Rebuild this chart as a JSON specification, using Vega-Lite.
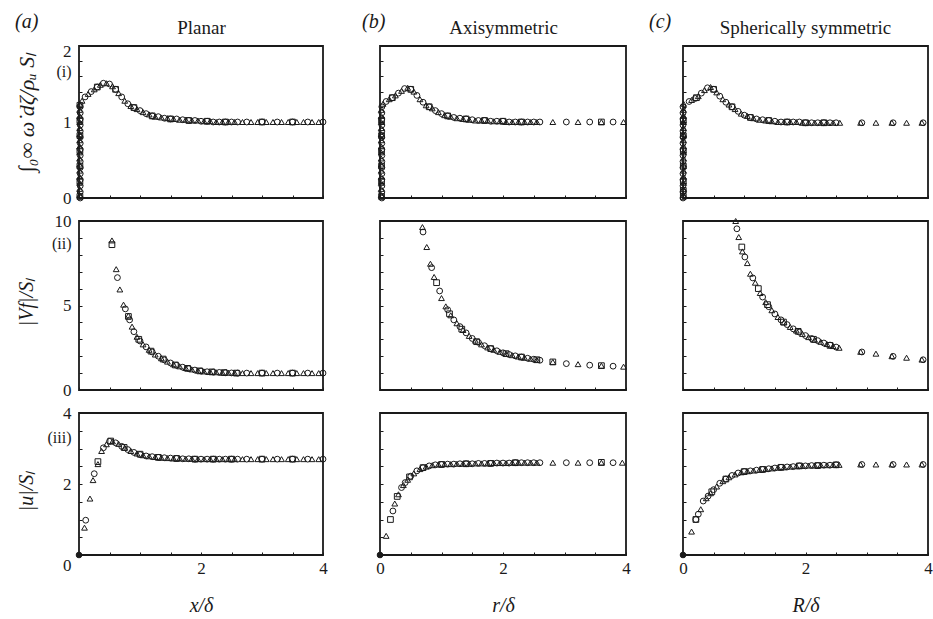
{
"$schema":"https://vega.github.io/schema/vega-lite/v6.json",
"padding":{"left":14,"top":11,"right":0,"bottom":0},
"config":{
 "font":"Liberation Serif",
 "view":{"stroke":"#1a1a1a","strokeWidth":1.8},
 "axis":{"domain":false,"grid":false,"tickSize":-3,"tickColor":"#1a1a1a","tickWidth":1,"labelFont":"Liberation Serif","labelFontSize":17,"labelColor":"#1a1a1a","labelPadding":11,"labelFlush":false,"labelOverlap":false,"labelBound":false,"titleFont":"Liberation Serif","titleFontSize":20,"titleFontWeight":"normal","titleFontStyle":"italic","titleColor":"#1a1a1a"},
 "axisX":{"labelFont":"Liberation Serif","labelPadding":8,"titlePadding":19},
 "axisY":{"labelFont":"Liberation Serif","titleBaseline":"middle","titleAngle":-90},
 "title":{"font":"Liberation Serif","fontSize":20,"fontWeight":"normal","fontStyle":"italic","color":"#1a1a1a","anchor":"start","frame":"group"}
},
"datasets":{
"a1":[
{"s":"o","x":0.02,"y":0},{"s":"o","x":0.02,"y":0.08},{"s":"o","x":0.02,"y":0.16},{"s":"o","x":0.02,"y":0.24},{"s":"o","x":0.02,"y":0.32},{"s":"o","x":0.02,"y":0.4},{"s":"o","x":0.02,"y":0.48},{"s":"o","x":0.02,"y":0.56},{"s":"o","x":0.02,"y":0.64},{"s":"o","x":0.02,"y":0.72},{"s":"o","x":0.02,"y":0.8},{"s":"o","x":0.02,"y":0.88},{"s":"o","x":0.02,"y":0.96},{"s":"o","x":0.02,"y":1.04},{"s":"o","x":0.02,"y":1.12},{"s":"o","x":0.02,"y":1.2},
{"s":"t","x":0.01,"y":0.04},{"s":"t","x":0.01,"y":0.12},{"s":"t","x":0.01,"y":0.2},{"s":"t","x":0.01,"y":0.28},{"s":"t","x":0.01,"y":0.36},{"s":"t","x":0.01,"y":0.44},{"s":"t","x":0.01,"y":0.52},{"s":"t","x":0.01,"y":0.6},{"s":"t","x":0.01,"y":0.68},{"s":"t","x":0.01,"y":0.76},{"s":"t","x":0.01,"y":0.84},{"s":"t","x":0.01,"y":0.92},{"s":"t","x":0.01,"y":1.0},{"s":"t","x":0.01,"y":1.08},{"s":"t","x":0.01,"y":1.16},{"s":"t","x":0.01,"y":1.24},
{"s":"q","x":0.015,"y":0.02},{"s":"q","x":0.015,"y":0.22},{"s":"q","x":0.015,"y":0.42},{"s":"q","x":0.015,"y":0.62},{"s":"q","x":0.015,"y":0.82},{"s":"q","x":0.015,"y":1.02},{"s":"q","x":0.015,"y":1.22},
{"s":"o","x":0.1,"y":1.33},{"s":"o","x":0.2,"y":1.4},{"s":"o","x":0.3,"y":1.46},{"s":"o","x":0.4,"y":1.51},{"s":"o","x":0.5,"y":1.5},{"s":"o","x":0.6,"y":1.43},{"s":"o","x":0.7,"y":1.33},{"s":"o","x":0.8,"y":1.24},{"s":"o","x":0.9,"y":1.19},{"s":"o","x":1.0,"y":1.15},{"s":"o","x":1.1,"y":1.11},{"s":"o","x":1.2,"y":1.08},{"s":"o","x":1.3,"y":1.07},{"s":"o","x":1.4,"y":1.05},{"s":"o","x":1.5,"y":1.04},{"s":"o","x":1.6,"y":1.04},{"s":"o","x":1.7,"y":1.03},{"s":"o","x":1.8,"y":1.02},{"s":"o","x":1.9,"y":1.02},{"s":"o","x":2.0,"y":1.01},{"s":"o","x":2.1,"y":1.01},{"s":"o","x":2.2,"y":1.0},{"s":"o","x":2.3,"y":1.0},{"s":"o","x":2.4,"y":1.0},{"s":"o","x":2.5,"y":1.0},{"s":"o","x":2.6,"y":1.0},
{"s":"t","x":0.05,"y":1.28},{"s":"t","x":0.15,"y":1.37},{"s":"t","x":0.25,"y":1.43},{"s":"t","x":0.35,"y":1.49},{"s":"t","x":0.45,"y":1.51},{"s":"t","x":0.55,"y":1.47},{"s":"t","x":0.65,"y":1.38},{"s":"t","x":0.75,"y":1.28},{"s":"t","x":0.85,"y":1.21},{"s":"t","x":0.95,"y":1.17},{"s":"t","x":1.05,"y":1.13},{"s":"t","x":1.15,"y":1.1},{"s":"t","x":1.25,"y":1.07},{"s":"t","x":1.35,"y":1.06},{"s":"t","x":1.45,"y":1.05},{"s":"t","x":1.55,"y":1.04},{"s":"t","x":1.65,"y":1.03},{"s":"t","x":1.75,"y":1.03},{"s":"t","x":1.85,"y":1.02},{"s":"t","x":1.95,"y":1.02},{"s":"t","x":2.05,"y":1.01},{"s":"t","x":2.15,"y":1.01},{"s":"t","x":2.25,"y":1.0},{"s":"t","x":2.35,"y":1.0},{"s":"t","x":2.45,"y":1.0},{"s":"t","x":2.55,"y":1.0},
{"s":"q","x":0.3,"y":1.46},{"s":"q","x":0.6,"y":1.43},{"s":"q","x":0.9,"y":1.19},{"s":"q","x":1.2,"y":1.08},{"s":"q","x":1.5,"y":1.04},{"s":"q","x":1.8,"y":1.02},{"s":"q","x":2.1,"y":1.01},{"s":"q","x":2.4,"y":1.0},
{"s":"o","x":2.75,"y":1.0},{"s":"o","x":3.0,"y":1.0},{"s":"o","x":3.25,"y":1.0},{"s":"o","x":3.5,"y":1.0},{"s":"o","x":3.75,"y":1.0},{"s":"o","x":4.0,"y":1.0},
{"s":"t","x":2.68,"y":1.0},{"s":"t","x":2.82,"y":1.0},{"s":"t","x":2.93,"y":1.0},{"s":"t","x":3.07,"y":1.0},{"s":"t","x":3.18,"y":1.0},{"s":"t","x":3.32,"y":1.0},{"s":"t","x":3.43,"y":1.0},{"s":"t","x":3.57,"y":1.0},{"s":"t","x":3.68,"y":1.0},{"s":"t","x":3.82,"y":1.0},{"s":"t","x":3.93,"y":1.0},
{"s":"q","x":3.0,"y":1.0},{"s":"q","x":3.5,"y":1.0}
],
"a2":[
{"s":"t","x":0.54,"y":8.85},{"s":"t","x":0.61,"y":7.15},{"s":"t","x":0.67,"y":5.95},{"s":"t","x":0.73,"y":5.05},{"s":"t","x":0.81,"y":4.4},{"s":"t","x":0.87,"y":3.75},{"s":"t","x":0.95,"y":3.15},{"s":"t","x":1.05,"y":2.7},{"s":"t","x":1.15,"y":2.38},{"s":"t","x":1.25,"y":2.1},{"s":"t","x":1.35,"y":1.88},{"s":"t","x":1.45,"y":1.68},{"s":"t","x":1.55,"y":1.52},{"s":"t","x":1.65,"y":1.4},{"s":"t","x":1.75,"y":1.3},{"s":"t","x":1.85,"y":1.22},{"s":"t","x":1.95,"y":1.15},{"s":"t","x":2.05,"y":1.1},{"s":"t","x":2.15,"y":1.07},{"s":"t","x":2.25,"y":1.05},{"s":"t","x":2.35,"y":1.03},{"s":"t","x":2.45,"y":1.02},{"s":"t","x":2.55,"y":1.01},
{"s":"o","x":0.63,"y":6.65},{"s":"o","x":0.76,"y":4.8},{"s":"o","x":0.83,"y":4.15},{"s":"o","x":0.9,"y":3.45},{"s":"o","x":1.0,"y":2.9},{"s":"o","x":1.1,"y":2.55},{"s":"o","x":1.2,"y":2.25},{"s":"o","x":1.3,"y":2.0},{"s":"o","x":1.4,"y":1.78},{"s":"o","x":1.5,"y":1.6},{"s":"o","x":1.6,"y":1.46},{"s":"o","x":1.7,"y":1.35},{"s":"o","x":1.8,"y":1.26},{"s":"o","x":1.9,"y":1.18},{"s":"o","x":2.0,"y":1.12},{"s":"o","x":2.1,"y":1.08},{"s":"o","x":2.2,"y":1.06},{"s":"o","x":2.3,"y":1.04},{"s":"o","x":2.4,"y":1.02},{"s":"o","x":2.5,"y":1.01},{"s":"o","x":2.6,"y":1.0},
{"s":"q","x":0.54,"y":8.6},{"s":"q","x":0.81,"y":4.35},{"s":"q","x":0.98,"y":3.0},{"s":"q","x":1.18,"y":2.3},{"s":"q","x":1.38,"y":1.83},{"s":"q","x":1.58,"y":1.48},{"s":"q","x":1.78,"y":1.28},{"s":"q","x":1.98,"y":1.13},{"s":"q","x":2.18,"y":1.07},{"s":"q","x":2.38,"y":1.03},{"s":"q","x":2.58,"y":1.0},
{"s":"o","x":2.75,"y":1.0},{"s":"o","x":3.0,"y":1.0},{"s":"o","x":3.25,"y":1.0},{"s":"o","x":3.5,"y":1.0},{"s":"o","x":3.75,"y":1.0},{"s":"o","x":4.0,"y":1.0},
{"s":"t","x":2.68,"y":1.0},{"s":"t","x":2.82,"y":1.0},{"s":"t","x":2.93,"y":1.0},{"s":"t","x":3.07,"y":1.0},{"s":"t","x":3.18,"y":1.0},{"s":"t","x":3.32,"y":1.0},{"s":"t","x":3.43,"y":1.0},{"s":"t","x":3.57,"y":1.0},{"s":"t","x":3.68,"y":1.0},{"s":"t","x":3.82,"y":1.0},{"s":"t","x":3.93,"y":1.0},
{"s":"q","x":3.0,"y":1.0},{"s":"q","x":3.5,"y":1.0}
],
"a3":[
{"s":"f","x":0,"y":0},
{"s":"t","x":0.09,"y":0.77},{"s":"t","x":0.18,"y":1.59},{"s":"t","x":0.23,"y":2.11},{"s":"t","x":0.31,"y":2.56},{"s":"t","x":0.37,"y":2.93},{"s":"t","x":0.45,"y":3.12},{"s":"t","x":0.55,"y":3.2},{"s":"t","x":0.65,"y":3.13},{"s":"t","x":0.75,"y":3.02},{"s":"t","x":0.85,"y":2.93},{"s":"t","x":0.95,"y":2.86},{"s":"t","x":1.05,"y":2.81},{"s":"t","x":1.15,"y":2.78},{"s":"t","x":1.25,"y":2.76},{"s":"t","x":1.35,"y":2.74},{"s":"t","x":1.45,"y":2.73},{"s":"t","x":1.55,"y":2.72},{"s":"t","x":1.65,"y":2.72},{"s":"t","x":1.75,"y":2.71},{"s":"t","x":1.85,"y":2.71},{"s":"t","x":1.95,"y":2.7},{"s":"t","x":2.05,"y":2.7},{"s":"t","x":2.15,"y":2.7},{"s":"t","x":2.25,"y":2.7},{"s":"t","x":2.35,"y":2.7},{"s":"t","x":2.45,"y":2.7},{"s":"t","x":2.55,"y":2.7},
{"s":"o","x":0.11,"y":0.98},{"s":"o","x":0.25,"y":2.29},{"s":"o","x":0.4,"y":3.02},{"s":"o","x":0.5,"y":3.2},{"s":"o","x":0.6,"y":3.16},{"s":"o","x":0.7,"y":3.06},{"s":"o","x":0.8,"y":2.97},{"s":"o","x":0.9,"y":2.89},{"s":"o","x":1.0,"y":2.83},{"s":"o","x":1.1,"y":2.79},{"s":"o","x":1.2,"y":2.77},{"s":"o","x":1.3,"y":2.75},{"s":"o","x":1.4,"y":2.74},{"s":"o","x":1.5,"y":2.73},{"s":"o","x":1.6,"y":2.72},{"s":"o","x":1.7,"y":2.71},{"s":"o","x":1.8,"y":2.71},{"s":"o","x":1.9,"y":2.7},{"s":"o","x":2.0,"y":2.7},{"s":"o","x":2.1,"y":2.7},{"s":"o","x":2.2,"y":2.7},{"s":"o","x":2.3,"y":2.7},{"s":"o","x":2.4,"y":2.7},{"s":"o","x":2.5,"y":2.7},{"s":"o","x":2.6,"y":2.7},
{"s":"q","x":0.31,"y":2.63},{"s":"q","x":0.52,"y":3.21},{"s":"q","x":0.74,"y":3.03},{"s":"q","x":1.0,"y":2.84},{"s":"q","x":1.3,"y":2.75},{"s":"q","x":1.6,"y":2.72},{"s":"q","x":1.9,"y":2.7},{"s":"q","x":2.2,"y":2.7},{"s":"q","x":2.5,"y":2.7},
{"s":"o","x":2.75,"y":2.7},{"s":"o","x":3.0,"y":2.7},{"s":"o","x":3.25,"y":2.7},{"s":"o","x":3.5,"y":2.7},{"s":"o","x":3.75,"y":2.7},{"s":"o","x":4.0,"y":2.7},
{"s":"t","x":2.68,"y":2.7},{"s":"t","x":2.82,"y":2.7},{"s":"t","x":2.93,"y":2.7},{"s":"t","x":3.07,"y":2.7},{"s":"t","x":3.18,"y":2.7},{"s":"t","x":3.32,"y":2.7},{"s":"t","x":3.43,"y":2.7},{"s":"t","x":3.57,"y":2.7},{"s":"t","x":3.68,"y":2.7},{"s":"t","x":3.82,"y":2.7},{"s":"t","x":3.93,"y":2.7},
{"s":"q","x":3.0,"y":2.7},{"s":"q","x":3.5,"y":2.7}
],
"b1":[
{"s":"o","x":0.03,"y":0},{"s":"o","x":0.03,"y":0.08},{"s":"o","x":0.03,"y":0.16},{"s":"o","x":0.03,"y":0.24},{"s":"o","x":0.03,"y":0.32},{"s":"o","x":0.03,"y":0.4},{"s":"o","x":0.03,"y":0.48},{"s":"o","x":0.03,"y":0.56},{"s":"o","x":0.03,"y":0.64},{"s":"o","x":0.03,"y":0.72},{"s":"o","x":0.03,"y":0.8},{"s":"o","x":0.03,"y":0.88},{"s":"o","x":0.03,"y":0.96},{"s":"o","x":0.03,"y":1.04},{"s":"o","x":0.03,"y":1.12},{"s":"o","x":0.03,"y":1.2},
{"s":"t","x":0.02,"y":0.04},{"s":"t","x":0.02,"y":0.12},{"s":"t","x":0.02,"y":0.2},{"s":"t","x":0.02,"y":0.28},{"s":"t","x":0.02,"y":0.36},{"s":"t","x":0.02,"y":0.44},{"s":"t","x":0.02,"y":0.52},{"s":"t","x":0.02,"y":0.6},{"s":"t","x":0.02,"y":0.68},{"s":"t","x":0.02,"y":0.76},{"s":"t","x":0.02,"y":0.84},{"s":"t","x":0.02,"y":0.92},{"s":"t","x":0.02,"y":1.0},{"s":"t","x":0.02,"y":1.08},{"s":"t","x":0.02,"y":1.16},
{"s":"q","x":0.025,"y":0.02},{"s":"q","x":0.025,"y":0.22},{"s":"q","x":0.025,"y":0.42},{"s":"q","x":0.025,"y":0.62},{"s":"q","x":0.025,"y":0.82},{"s":"q","x":0.025,"y":1.02},
{"s":"o","x":0.1,"y":1.27},{"s":"o","x":0.2,"y":1.32},{"s":"o","x":0.3,"y":1.38},{"s":"o","x":0.4,"y":1.44},{"s":"o","x":0.5,"y":1.43},{"s":"o","x":0.6,"y":1.35},{"s":"o","x":0.7,"y":1.26},{"s":"o","x":0.8,"y":1.2},{"s":"o","x":0.9,"y":1.15},{"s":"o","x":1.0,"y":1.11},{"s":"o","x":1.1,"y":1.08},{"s":"o","x":1.2,"y":1.06},{"s":"o","x":1.3,"y":1.05},{"s":"o","x":1.4,"y":1.04},{"s":"o","x":1.5,"y":1.03},{"s":"o","x":1.6,"y":1.02},{"s":"o","x":1.7,"y":1.02},{"s":"o","x":1.8,"y":1.01},{"s":"o","x":1.9,"y":1.01},{"s":"o","x":2.0,"y":1.01},{"s":"o","x":2.1,"y":1.0},{"s":"o","x":2.2,"y":1.0},{"s":"o","x":2.3,"y":1.0},{"s":"o","x":2.4,"y":1.0},{"s":"o","x":2.5,"y":1.0},{"s":"o","x":2.6,"y":1.0},
{"s":"t","x":0.05,"y":1.24},{"s":"t","x":0.15,"y":1.3},{"s":"t","x":0.25,"y":1.35},{"s":"t","x":0.35,"y":1.41},{"s":"t","x":0.45,"y":1.45},{"s":"t","x":0.55,"y":1.4},{"s":"t","x":0.65,"y":1.3},{"s":"t","x":0.75,"y":1.22},{"s":"t","x":0.85,"y":1.18},{"s":"t","x":0.95,"y":1.13},{"s":"t","x":1.05,"y":1.09},{"s":"t","x":1.15,"y":1.07},{"s":"t","x":1.25,"y":1.05},{"s":"t","x":1.35,"y":1.04},{"s":"t","x":1.45,"y":1.03},{"s":"t","x":1.55,"y":1.02},{"s":"t","x":1.65,"y":1.02},{"s":"t","x":1.75,"y":1.02},{"s":"t","x":1.85,"y":1.01},{"s":"t","x":1.95,"y":1.01},{"s":"t","x":2.05,"y":1.0},{"s":"t","x":2.15,"y":1.0},{"s":"t","x":2.25,"y":1.0},{"s":"t","x":2.35,"y":1.0},{"s":"t","x":2.45,"y":1.0},{"s":"t","x":2.55,"y":1.0},
{"s":"q","x":0.2,"y":1.32},{"s":"q","x":0.5,"y":1.43},{"s":"q","x":0.8,"y":1.2},{"s":"q","x":1.1,"y":1.08},{"s":"q","x":1.4,"y":1.04},{"s":"q","x":1.7,"y":1.02},{"s":"q","x":2.0,"y":1.01},{"s":"q","x":2.3,"y":1.0},
{"s":"t","x":2.81,"y":1.0},{"s":"o","x":3.03,"y":1.0},{"s":"t","x":3.22,"y":1.0},{"s":"o","x":3.41,"y":1.0},{"s":"t","x":3.6,"y":1.0},{"s":"q","x":3.6,"y":1.0},{"s":"o","x":3.79,"y":1.0},{"s":"t","x":3.96,"y":1.0}
],
"b2":[
{"s":"t","x":0.69,"y":9.64},{"s":"t","x":0.76,"y":8.46},{"s":"t","x":0.82,"y":7.47},{"s":"t","x":0.88,"y":6.69},{"s":"t","x":1.0,"y":5.44},{"s":"t","x":1.07,"y":4.95},{"s":"t","x":1.15,"y":4.42},{"s":"t","x":1.25,"y":3.95},{"s":"t","x":1.35,"y":3.55},{"s":"t","x":1.45,"y":3.2},{"s":"t","x":1.55,"y":2.92},{"s":"t","x":1.65,"y":2.7},{"s":"t","x":1.75,"y":2.52},{"s":"t","x":1.85,"y":2.38},{"s":"t","x":1.95,"y":2.26},{"s":"t","x":2.05,"y":2.15},{"s":"t","x":2.15,"y":2.06},{"s":"t","x":2.25,"y":1.98},{"s":"t","x":2.35,"y":1.91},{"s":"t","x":2.45,"y":1.85},{"s":"t","x":2.55,"y":1.79},
{"s":"o","x":0.7,"y":9.35},{"s":"o","x":0.84,"y":7.24},{"s":"o","x":0.97,"y":5.86},{"s":"o","x":1.1,"y":4.75},{"s":"o","x":1.2,"y":4.15},{"s":"o","x":1.3,"y":3.75},{"s":"o","x":1.4,"y":3.38},{"s":"o","x":1.5,"y":3.05},{"s":"o","x":1.6,"y":2.82},{"s":"o","x":1.7,"y":2.62},{"s":"o","x":1.8,"y":2.45},{"s":"o","x":1.9,"y":2.32},{"s":"o","x":2.0,"y":2.2},{"s":"o","x":2.1,"y":2.1},{"s":"o","x":2.2,"y":2.02},{"s":"o","x":2.3,"y":1.95},{"s":"o","x":2.4,"y":1.88},{"s":"o","x":2.5,"y":1.82},{"s":"o","x":2.6,"y":1.76},
{"s":"q","x":0.92,"y":6.35},{"s":"q","x":1.13,"y":4.51},{"s":"q","x":1.33,"y":3.6},{"s":"q","x":1.57,"y":2.86},{"s":"q","x":1.8,"y":2.45},{"s":"q","x":2.05,"y":2.15},{"s":"q","x":2.3,"y":1.95},{"s":"q","x":2.55,"y":1.79},
{"s":"t","x":2.81,"y":1.66},{"s":"q","x":2.81,"y":1.66},{"s":"o","x":3.03,"y":1.56},{"s":"t","x":3.22,"y":1.53},{"s":"o","x":3.41,"y":1.47},{"s":"t","x":3.6,"y":1.44},{"s":"q","x":3.6,"y":1.44},{"s":"o","x":3.79,"y":1.41},{"s":"t","x":3.96,"y":1.38}
],
"b3":[
{"s":"f","x":0,"y":0},
{"s":"t","x":0.1,"y":0.54},{"s":"t","x":0.24,"y":1.45},{"s":"t","x":0.3,"y":1.71},{"s":"t","x":0.38,"y":1.97},{"s":"t","x":0.45,"y":2.12},{"s":"t","x":0.55,"y":2.3},{"s":"t","x":0.65,"y":2.42},{"s":"t","x":0.75,"y":2.49},{"s":"t","x":0.85,"y":2.53},{"s":"t","x":0.95,"y":2.55},{"s":"t","x":1.05,"y":2.56},{"s":"t","x":1.15,"y":2.56},{"s":"t","x":1.25,"y":2.57},{"s":"t","x":1.35,"y":2.57},{"s":"t","x":1.45,"y":2.57},{"s":"t","x":1.55,"y":2.58},{"s":"t","x":1.65,"y":2.58},{"s":"t","x":1.75,"y":2.58},{"s":"t","x":1.85,"y":2.59},{"s":"t","x":1.95,"y":2.59},{"s":"t","x":2.05,"y":2.59},{"s":"t","x":2.15,"y":2.6},{"s":"t","x":2.25,"y":2.6},{"s":"t","x":2.35,"y":2.6},{"s":"t","x":2.45,"y":2.6},{"s":"t","x":2.55,"y":2.6},
{"s":"o","x":0.21,"y":1.24},{"s":"o","x":0.35,"y":1.9},{"s":"o","x":0.41,"y":2.04},{"s":"o","x":0.5,"y":2.22},{"s":"o","x":0.6,"y":2.37},{"s":"o","x":0.7,"y":2.46},{"s":"o","x":0.8,"y":2.51},{"s":"o","x":0.9,"y":2.54},{"s":"o","x":1.0,"y":2.55},{"s":"o","x":1.1,"y":2.56},{"s":"o","x":1.2,"y":2.56},{"s":"o","x":1.3,"y":2.57},{"s":"o","x":1.4,"y":2.57},{"s":"o","x":1.5,"y":2.57},{"s":"o","x":1.6,"y":2.58},{"s":"o","x":1.7,"y":2.58},{"s":"o","x":1.8,"y":2.58},{"s":"o","x":1.9,"y":2.59},{"s":"o","x":2.0,"y":2.59},{"s":"o","x":2.1,"y":2.59},{"s":"o","x":2.2,"y":2.6},{"s":"o","x":2.3,"y":2.6},{"s":"o","x":2.4,"y":2.6},{"s":"o","x":2.5,"y":2.6},{"s":"o","x":2.6,"y":2.6},
{"s":"q","x":0.17,"y":1.0},{"s":"q","x":0.28,"y":1.65},{"s":"q","x":0.48,"y":2.2},{"s":"q","x":0.7,"y":2.46},{"s":"q","x":1.0,"y":2.55},{"s":"q","x":1.4,"y":2.57},{"s":"q","x":1.8,"y":2.58},{"s":"q","x":2.2,"y":2.6},
{"s":"t","x":2.81,"y":2.6},{"s":"o","x":3.03,"y":2.6},{"s":"t","x":3.22,"y":2.6},{"s":"o","x":3.41,"y":2.6},{"s":"t","x":3.6,"y":2.6},{"s":"q","x":3.6,"y":2.61},{"s":"o","x":3.79,"y":2.6},{"s":"t","x":3.94,"y":2.6}
],
"c1":[
{"s":"o","x":0.0,"y":0},{"s":"o","x":0.0,"y":0.08},{"s":"o","x":0.0,"y":0.16},{"s":"o","x":0.0,"y":0.24},{"s":"o","x":0.0,"y":0.32},{"s":"o","x":0.0,"y":0.4},{"s":"o","x":0.0,"y":0.48},{"s":"o","x":0.0,"y":0.56},{"s":"o","x":0.0,"y":0.64},{"s":"o","x":0.0,"y":0.72},{"s":"o","x":0.0,"y":0.8},{"s":"o","x":0.0,"y":0.88},{"s":"o","x":0.0,"y":0.96},{"s":"o","x":0.0,"y":1.04},{"s":"o","x":0.0,"y":1.12},{"s":"o","x":0.0,"y":1.2},
{"s":"t","x":0.01,"y":0.04},{"s":"t","x":0.01,"y":0.12},{"s":"t","x":0.01,"y":0.2},{"s":"t","x":0.01,"y":0.28},{"s":"t","x":0.01,"y":0.36},{"s":"t","x":0.01,"y":0.44},{"s":"t","x":0.01,"y":0.52},{"s":"t","x":0.01,"y":0.6},{"s":"t","x":0.01,"y":0.68},{"s":"t","x":0.01,"y":0.76},{"s":"t","x":0.01,"y":0.84},{"s":"t","x":0.01,"y":0.92},{"s":"t","x":0.01,"y":1.0},{"s":"t","x":0.01,"y":1.08},{"s":"t","x":0.01,"y":1.16},{"s":"t","x":0.01,"y":1.24},
{"s":"q","x":0.005,"y":0.02},{"s":"q","x":0.005,"y":0.1},{"s":"q","x":0.005,"y":0.22},{"s":"q","x":0.005,"y":0.42},{"s":"q","x":0.005,"y":0.62},{"s":"q","x":0.005,"y":0.82},{"s":"q","x":0.005,"y":1.02},
{"s":"o","x":0.1,"y":1.27},{"s":"o","x":0.2,"y":1.31},{"s":"o","x":0.3,"y":1.38},{"s":"o","x":0.4,"y":1.45},{"s":"o","x":0.5,"y":1.43},{"s":"o","x":0.6,"y":1.34},{"s":"o","x":0.7,"y":1.26},{"s":"o","x":0.8,"y":1.2},{"s":"o","x":0.9,"y":1.14},{"s":"o","x":1.0,"y":1.09},{"s":"o","x":1.1,"y":1.06},{"s":"o","x":1.2,"y":1.04},{"s":"o","x":1.3,"y":1.03},{"s":"o","x":1.4,"y":1.02},{"s":"o","x":1.5,"y":1.01},{"s":"o","x":1.6,"y":1.0},{"s":"o","x":1.7,"y":1.0},{"s":"o","x":1.8,"y":1.0},{"s":"o","x":1.9,"y":1.0},{"s":"o","x":2.0,"y":0.99},{"s":"o","x":2.1,"y":0.99},{"s":"o","x":2.2,"y":0.99},{"s":"o","x":2.3,"y":0.99},{"s":"o","x":2.4,"y":0.99},{"s":"o","x":2.5,"y":0.99},
{"s":"t","x":0.14,"y":1.29},{"s":"t","x":0.25,"y":1.34},{"s":"t","x":0.35,"y":1.42},{"s":"t","x":0.45,"y":1.46},{"s":"t","x":0.55,"y":1.39},{"s":"t","x":0.65,"y":1.3},{"s":"t","x":0.75,"y":1.23},{"s":"t","x":0.85,"y":1.17},{"s":"t","x":0.95,"y":1.11},{"s":"t","x":1.05,"y":1.08},{"s":"t","x":1.15,"y":1.05},{"s":"t","x":1.25,"y":1.03},{"s":"t","x":1.35,"y":1.02},{"s":"t","x":1.45,"y":1.01},{"s":"t","x":1.55,"y":1.0},{"s":"t","x":1.65,"y":1.0},{"s":"t","x":1.75,"y":1.0},{"s":"t","x":1.85,"y":1.0},{"s":"t","x":1.95,"y":0.99},{"s":"t","x":2.05,"y":0.99},{"s":"t","x":2.15,"y":0.99},{"s":"t","x":2.25,"y":0.99},{"s":"t","x":2.35,"y":0.99},{"s":"t","x":2.45,"y":0.99},{"s":"t","x":2.56,"y":0.99},
{"s":"q","x":0.22,"y":1.32},{"s":"q","x":0.5,"y":1.43},{"s":"q","x":0.8,"y":1.2},{"s":"q","x":1.1,"y":1.06},{"s":"q","x":1.4,"y":1.02},{"s":"q","x":1.7,"y":1.0},{"s":"q","x":2.0,"y":0.99},{"s":"q","x":2.3,"y":0.99},
{"s":"o","x":2.92,"y":0.99},{"s":"t","x":2.9,"y":0.99},{"s":"t","x":3.15,"y":0.99},{"s":"o","x":3.43,"y":0.99},{"s":"t","x":3.41,"y":0.99},{"s":"t","x":3.65,"y":0.99},{"s":"o","x":3.92,"y":0.99},{"s":"t","x":3.9,"y":0.99}
],
"c2":[
{"s":"t","x":0.86,"y":10.0},{"s":"t","x":0.91,"y":9.05},{"s":"t","x":0.97,"y":8.2},{"s":"t","x":1.05,"y":7.51},{"s":"t","x":1.1,"y":6.88},{"s":"t","x":1.18,"y":6.35},{"s":"t","x":1.26,"y":5.74},{"s":"t","x":1.35,"y":5.2},{"s":"t","x":1.45,"y":4.72},{"s":"t","x":1.55,"y":4.32},{"s":"t","x":1.65,"y":4.0},{"s":"t","x":1.75,"y":3.73},{"s":"t","x":1.85,"y":3.52},{"s":"t","x":1.95,"y":3.32},{"s":"t","x":2.05,"y":3.13},{"s":"t","x":2.15,"y":2.97},{"s":"t","x":2.25,"y":2.85},{"s":"t","x":2.35,"y":2.72},{"s":"t","x":2.45,"y":2.6},{"s":"t","x":2.55,"y":2.5},
{"s":"o","x":0.88,"y":9.54},{"s":"o","x":1.01,"y":7.87},{"s":"o","x":1.14,"y":6.63},{"s":"o","x":1.3,"y":5.5},{"s":"o","x":1.4,"y":4.93},{"s":"o","x":1.5,"y":4.5},{"s":"o","x":1.6,"y":4.15},{"s":"o","x":1.7,"y":3.87},{"s":"o","x":1.8,"y":3.62},{"s":"o","x":1.9,"y":3.42},{"s":"o","x":2.0,"y":3.22},{"s":"o","x":2.1,"y":3.05},{"s":"o","x":2.2,"y":2.92},{"s":"o","x":2.3,"y":2.78},{"s":"o","x":2.4,"y":2.66},{"s":"o","x":2.5,"y":2.54},
{"s":"q","x":0.96,"y":8.46},{"s":"q","x":1.23,"y":6.0},{"s":"q","x":1.38,"y":5.05},{"s":"q","x":1.64,"y":4.02},{"s":"q","x":1.88,"y":3.47},{"s":"q","x":2.13,"y":3.0},{"s":"q","x":2.4,"y":2.64},
{"s":"o","x":2.92,"y":2.25},{"s":"t","x":2.9,"y":2.26},{"s":"t","x":3.15,"y":2.15},{"s":"o","x":3.43,"y":1.99},{"s":"t","x":3.41,"y":2.0},{"s":"t","x":3.65,"y":1.91},{"s":"o","x":3.92,"y":1.79},{"s":"t","x":3.9,"y":1.8}
],
"c3":[
{"s":"f","x":0,"y":0},
{"s":"t","x":0.14,"y":0.66},{"s":"t","x":0.29,"y":1.29},{"s":"t","x":0.38,"y":1.6},{"s":"t","x":0.45,"y":1.74},{"s":"t","x":0.55,"y":1.93},{"s":"t","x":0.65,"y":2.08},{"s":"t","x":0.75,"y":2.19},{"s":"t","x":0.85,"y":2.27},{"s":"t","x":0.95,"y":2.33},{"s":"t","x":1.05,"y":2.36},{"s":"t","x":1.15,"y":2.38},{"s":"t","x":1.25,"y":2.4},{"s":"t","x":1.35,"y":2.42},{"s":"t","x":1.45,"y":2.44},{"s":"t","x":1.55,"y":2.46},{"s":"t","x":1.65,"y":2.47},{"s":"t","x":1.75,"y":2.49},{"s":"t","x":1.85,"y":2.5},{"s":"t","x":1.95,"y":2.51},{"s":"t","x":2.05,"y":2.52},{"s":"t","x":2.15,"y":2.52},{"s":"t","x":2.25,"y":2.53},{"s":"t","x":2.35,"y":2.53},{"s":"t","x":2.45,"y":2.54},{"s":"t","x":2.55,"y":2.54},
{"s":"o","x":0.21,"y":1.0},{"s":"o","x":0.25,"y":1.15},{"s":"o","x":0.33,"y":1.52},{"s":"o","x":0.41,"y":1.66},{"s":"o","x":0.5,"y":1.84},{"s":"o","x":0.6,"y":2.02},{"s":"o","x":0.7,"y":2.14},{"s":"o","x":0.8,"y":2.24},{"s":"o","x":0.9,"y":2.31},{"s":"o","x":1.0,"y":2.35},{"s":"o","x":1.1,"y":2.37},{"s":"o","x":1.2,"y":2.39},{"s":"o","x":1.3,"y":2.41},{"s":"o","x":1.4,"y":2.43},{"s":"o","x":1.5,"y":2.45},{"s":"o","x":1.6,"y":2.47},{"s":"o","x":1.7,"y":2.48},{"s":"o","x":1.8,"y":2.49},{"s":"o","x":1.9,"y":2.51},{"s":"o","x":2.0,"y":2.51},{"s":"o","x":2.1,"y":2.52},{"s":"o","x":2.2,"y":2.52},{"s":"o","x":2.3,"y":2.53},{"s":"o","x":2.4,"y":2.53},{"s":"o","x":2.5,"y":2.54},
{"s":"q","x":0.21,"y":1.0},{"s":"q","x":0.47,"y":1.78},{"s":"q","x":0.7,"y":2.14},{"s":"q","x":1.0,"y":2.35},{"s":"q","x":1.3,"y":2.41},{"s":"q","x":1.6,"y":2.47},{"s":"q","x":1.9,"y":2.51},{"s":"q","x":2.2,"y":2.52},{"s":"q","x":2.5,"y":2.54},
{"s":"o","x":2.92,"y":2.55},{"s":"t","x":2.9,"y":2.55},{"s":"t","x":3.15,"y":2.55},{"s":"o","x":3.43,"y":2.55},{"s":"t","x":3.41,"y":2.55},{"s":"t","x":3.65,"y":2.55},{"s":"o","x":3.92,"y":2.55},{"s":"t","x":3.9,"y":2.55}
]
},
"columns":3,
"spacing":{"row":23,"column":57},
"bounds":"flush",
"concat":[
{"width":244,"height":152,"title":{"text":"(a)","dx":-64,"dy":14,"offset":0},"data":{"name":"a1"},
 "mark":{"type":"point","filled":true,"stroke":"#1a1a1a","strokeWidth":1,"opacity":1},
 "encoding":{
  "x":{"field":"x","type":"quantitative","scale":{"domain":[0,4],"nice":false},"axis":{"values":[0,0.5,1,1.5,2,2.5,3,3.5,4],"labels":false,"title":"Planar","titleX":122,"titleY":-165,"titleAlign":"center","titleBaseline":"alphabetic","titleFontSize":19,"titleFontStyle":"normal"}},
  "y":{"field":"y","type":"quantitative","scale":{"domain":[0,2],"nice":false},"axis":{"values":[0,0.2,0.4,0.6,0.8,1,1.2,1.4,1.6,1.8,2,1.66],"labelExpr":"datum.value == 1.66 ? '(i)' : (datum.value % 1 === 0 ? format(datum.value,'d') : '')","tickOpacity":{"condition":{"test":"datum.value == 1.66","value":0},"value":1},"labelFontSize":{"condition":{"test":"datum.value == 1.66","value":16},"value":17},"labelOffset":{"condition":{"test":"datum.value == 2","value":5},"value":0},"title":"∫₀∞ ω̇ dζ/ρᵤ Sₗ","titleFontSize":22,"titleX":-53,"titleY":66}},
  "shape":{"field":"s","type":"nominal","scale":{"domain":["o","t","q","f"],"range":["circle","triangle-up","square","circle"]},"legend":null},
  "size":{"field":"s","type":"ordinal","scale":{"domain":["o","t","q","f"],"range":[34,32,24,64]},"legend":null},
  "fill":{"field":"s","type":"nominal","scale":{"domain":["o","t","q","f"],"range":["transparent","transparent","transparent","#1a1a1a"]},"legend":null}
 }},
{"width":246,"height":152,"title":{"text":"(b)","dx":-18,"dy":14,"offset":0},"data":{"name":"b1"},
 "mark":{"type":"point","filled":true,"stroke":"#1a1a1a","strokeWidth":1,"opacity":1},
 "encoding":{
  "x":{"field":"x","type":"quantitative","scale":{"domain":[0,4],"nice":false},"axis":{"values":[0,0.5,1,1.5,2,2.5,3,3.5,4],"labels":false,"title":"Axisymmetric","titleX":123,"titleY":-165,"titleAlign":"center","titleBaseline":"alphabetic","titleFontSize":19,"titleFontStyle":"normal"}},
  "y":{"field":"y","type":"quantitative","scale":{"domain":[0,2],"nice":false},"axis":{"values":[0,0.2,0.4,0.6,0.8,1,1.2,1.4,1.6,1.8,2],"labels":false,"title":null}},
  "shape":{"field":"s","type":"nominal","scale":{"domain":["o","t","q","f"],"range":["circle","triangle-up","square","circle"]},"legend":null},
  "size":{"field":"s","type":"ordinal","scale":{"domain":["o","t","q","f"],"range":[34,32,24,64]},"legend":null},
  "fill":{"field":"s","type":"nominal","scale":{"domain":["o","t","q","f"],"range":["transparent","transparent","transparent","#1a1a1a"]},"legend":null}
 }},
{"width":245,"height":152,"title":{"text":"(c)","dx":-34,"dy":14,"offset":0},"data":{"name":"c1"},
 "mark":{"type":"point","filled":true,"stroke":"#1a1a1a","strokeWidth":1,"opacity":1},
 "encoding":{
  "x":{"field":"x","type":"quantitative","scale":{"domain":[0,4],"nice":false},"axis":{"values":[0,0.5,1,1.5,2,2.5,3,3.5,4],"labels":false,"title":"Spherically symmetric","titleX":122,"titleY":-165,"titleAlign":"center","titleBaseline":"alphabetic","titleFontSize":19,"titleFontStyle":"normal"}},
  "y":{"field":"y","type":"quantitative","scale":{"domain":[0,2],"nice":false},"axis":{"values":[0,0.2,0.4,0.6,0.8,1,1.2,1.4,1.6,1.8,2],"labels":false,"title":null}},
  "shape":{"field":"s","type":"nominal","scale":{"domain":["o","t","q","f"],"range":["circle","triangle-up","square","circle"]},"legend":null},
  "size":{"field":"s","type":"ordinal","scale":{"domain":["o","t","q","f"],"range":[34,32,24,64]},"legend":null},
  "fill":{"field":"s","type":"nominal","scale":{"domain":["o","t","q","f"],"range":["transparent","transparent","transparent","#1a1a1a"]},"legend":null}
 }},
{"width":244,"height":169,"data":{"name":"a2"},
 "mark":{"type":"point","filled":true,"stroke":"#1a1a1a","strokeWidth":1,"opacity":1},
 "encoding":{
  "x":{"field":"x","type":"quantitative","scale":{"domain":[0,4],"nice":false},"axis":{"values":[0,0.5,1,1.5,2,2.5,3,3.5,4],"labels":false,"title":null}},
  "y":{"field":"y","type":"quantitative","scale":{"domain":[0,10],"nice":false},"axis":{"values":[0,1,2,3,4,5,6,7,8,9,10,8.64],"labelExpr":"datum.value == 8.64 ? '(ii)' : (datum.value % 5 === 0 ? format(datum.value,'d') : '')","tickOpacity":{"condition":{"test":"datum.value == 8.64","value":0},"value":1},"labelFontSize":{"condition":{"test":"datum.value == 8.64","value":16},"value":17},"title":"|Vf|/Sₗ","titleX":-53,"titleY":81}},
  "shape":{"field":"s","type":"nominal","scale":{"domain":["o","t","q","f"],"range":["circle","triangle-up","square","circle"]},"legend":null},
  "size":{"field":"s","type":"ordinal","scale":{"domain":["o","t","q","f"],"range":[34,32,24,64]},"legend":null},
  "fill":{"field":"s","type":"nominal","scale":{"domain":["o","t","q","f"],"range":["transparent","transparent","transparent","#1a1a1a"]},"legend":null}
 }},
{"width":246,"height":169,"data":{"name":"b2"},
 "mark":{"type":"point","filled":true,"stroke":"#1a1a1a","strokeWidth":1,"opacity":1},
 "encoding":{
  "x":{"field":"x","type":"quantitative","scale":{"domain":[0,4],"nice":false},"axis":{"values":[0,0.5,1,1.5,2,2.5,3,3.5,4],"labels":false,"title":null}},
  "y":{"field":"y","type":"quantitative","scale":{"domain":[0,10],"nice":false},"axis":{"values":[0,1,2,3,4,5,6,7,8,9,10],"labels":false,"title":null}},
  "shape":{"field":"s","type":"nominal","scale":{"domain":["o","t","q","f"],"range":["circle","triangle-up","square","circle"]},"legend":null},
  "size":{"field":"s","type":"ordinal","scale":{"domain":["o","t","q","f"],"range":[34,32,24,64]},"legend":null},
  "fill":{"field":"s","type":"nominal","scale":{"domain":["o","t","q","f"],"range":["transparent","transparent","transparent","#1a1a1a"]},"legend":null}
 }},
{"width":245,"height":169,"data":{"name":"c2"},
 "mark":{"type":"point","filled":true,"stroke":"#1a1a1a","strokeWidth":1,"opacity":1},
 "encoding":{
  "x":{"field":"x","type":"quantitative","scale":{"domain":[0,4],"nice":false},"axis":{"values":[0,0.5,1,1.5,2,2.5,3,3.5,4],"labels":false,"title":null}},
  "y":{"field":"y","type":"quantitative","scale":{"domain":[0,10],"nice":false},"axis":{"values":[0,1,2,3,4,5,6,7,8,9,10],"labels":false,"title":null}},
  "shape":{"field":"s","type":"nominal","scale":{"domain":["o","t","q","f"],"range":["circle","triangle-up","square","circle"]},"legend":null},
  "size":{"field":"s","type":"ordinal","scale":{"domain":["o","t","q","f"],"range":[34,32,24,64]},"legend":null},
  "fill":{"field":"s","type":"nominal","scale":{"domain":["o","t","q","f"],"range":["transparent","transparent","transparent","#1a1a1a"]},"legend":null}
 }},
{"width":244,"height":142,"data":{"name":"a3"},
 "mark":{"type":"point","filled":true,"stroke":"#1a1a1a","strokeWidth":1,"opacity":1},
 "encoding":{
  "x":{"field":"x","type":"quantitative","scale":{"domain":[0,4],"nice":false},"axis":{"values":[0,0.5,1,1.5,2,2.5,3,3.5,4],"labelExpr":"datum.value % 2 === 0 && datum.value > 0 ? format(datum.value,'d') : ''","title":"x/δ"}},
  "y":{"field":"y","type":"quantitative","scale":{"domain":[0,4],"nice":false},"axis":{"values":[0,0.5,1,1.5,2,2.5,3,3.5,4,3.3],"labelExpr":"datum.value == 3.3 ? '(iii)' : (datum.value % 2 === 0 ? format(datum.value,'d') : '')","tickOpacity":{"condition":{"test":"datum.value == 3.3","value":0},"value":1},"labelFontSize":{"condition":{"test":"datum.value == 3.3","value":16},"value":17},"labelOffset":{"condition":{"test":"datum.value == 0","value":10},"value":0},"title":"|u|/Sₗ","titleX":-53,"titleY":78}},
  "shape":{"field":"s","type":"nominal","scale":{"domain":["o","t","q","f"],"range":["circle","triangle-up","square","circle"]},"legend":null},
  "size":{"field":"s","type":"ordinal","scale":{"domain":["o","t","q","f"],"range":[34,32,24,64]},"legend":null},
  "fill":{"field":"s","type":"nominal","scale":{"domain":["o","t","q","f"],"range":["transparent","transparent","transparent","#1a1a1a"]},"legend":null}
 }},
{"width":246,"height":142,"data":{"name":"b3"},
 "mark":{"type":"point","filled":true,"stroke":"#1a1a1a","strokeWidth":1,"opacity":1},
 "encoding":{
  "x":{"field":"x","type":"quantitative","scale":{"domain":[0,4],"nice":false},"axis":{"values":[0,0.5,1,1.5,2,2.5,3,3.5,4],"labelExpr":"datum.value % 2 === 0 ? format(datum.value,'d') : ''","title":"r/δ"}},
  "y":{"field":"y","type":"quantitative","scale":{"domain":[0,4],"nice":false},"axis":{"values":[0,0.5,1,1.5,2,2.5,3,3.5,4],"labels":false,"title":null}},
  "shape":{"field":"s","type":"nominal","scale":{"domain":["o","t","q","f"],"range":["circle","triangle-up","square","circle"]},"legend":null},
  "size":{"field":"s","type":"ordinal","scale":{"domain":["o","t","q","f"],"range":[34,32,24,64]},"legend":null},
  "fill":{"field":"s","type":"nominal","scale":{"domain":["o","t","q","f"],"range":["transparent","transparent","transparent","#1a1a1a"]},"legend":null}
 }},
{"width":245,"height":142,"data":{"name":"c3"},
 "mark":{"type":"point","filled":true,"stroke":"#1a1a1a","strokeWidth":1,"opacity":1},
 "encoding":{
  "x":{"field":"x","type":"quantitative","scale":{"domain":[0,4],"nice":false},"axis":{"values":[0,0.5,1,1.5,2,2.5,3,3.5,4],"labelExpr":"datum.value % 2 === 0 ? format(datum.value,'d') : ''","title":"R/δ"}},
  "y":{"field":"y","type":"quantitative","scale":{"domain":[0,4],"nice":false},"axis":{"values":[0,0.5,1,1.5,2,2.5,3,3.5,4],"labels":false,"title":null}},
  "shape":{"field":"s","type":"nominal","scale":{"domain":["o","t","q","f"],"range":["circle","triangle-up","square","circle"]},"legend":null},
  "size":{"field":"s","type":"ordinal","scale":{"domain":["o","t","q","f"],"range":[34,32,24,64]},"legend":null},
  "fill":{"field":"s","type":"nominal","scale":{"domain":["o","t","q","f"],"range":["transparent","transparent","transparent","#1a1a1a"]},"legend":null}
 }}
]
}
